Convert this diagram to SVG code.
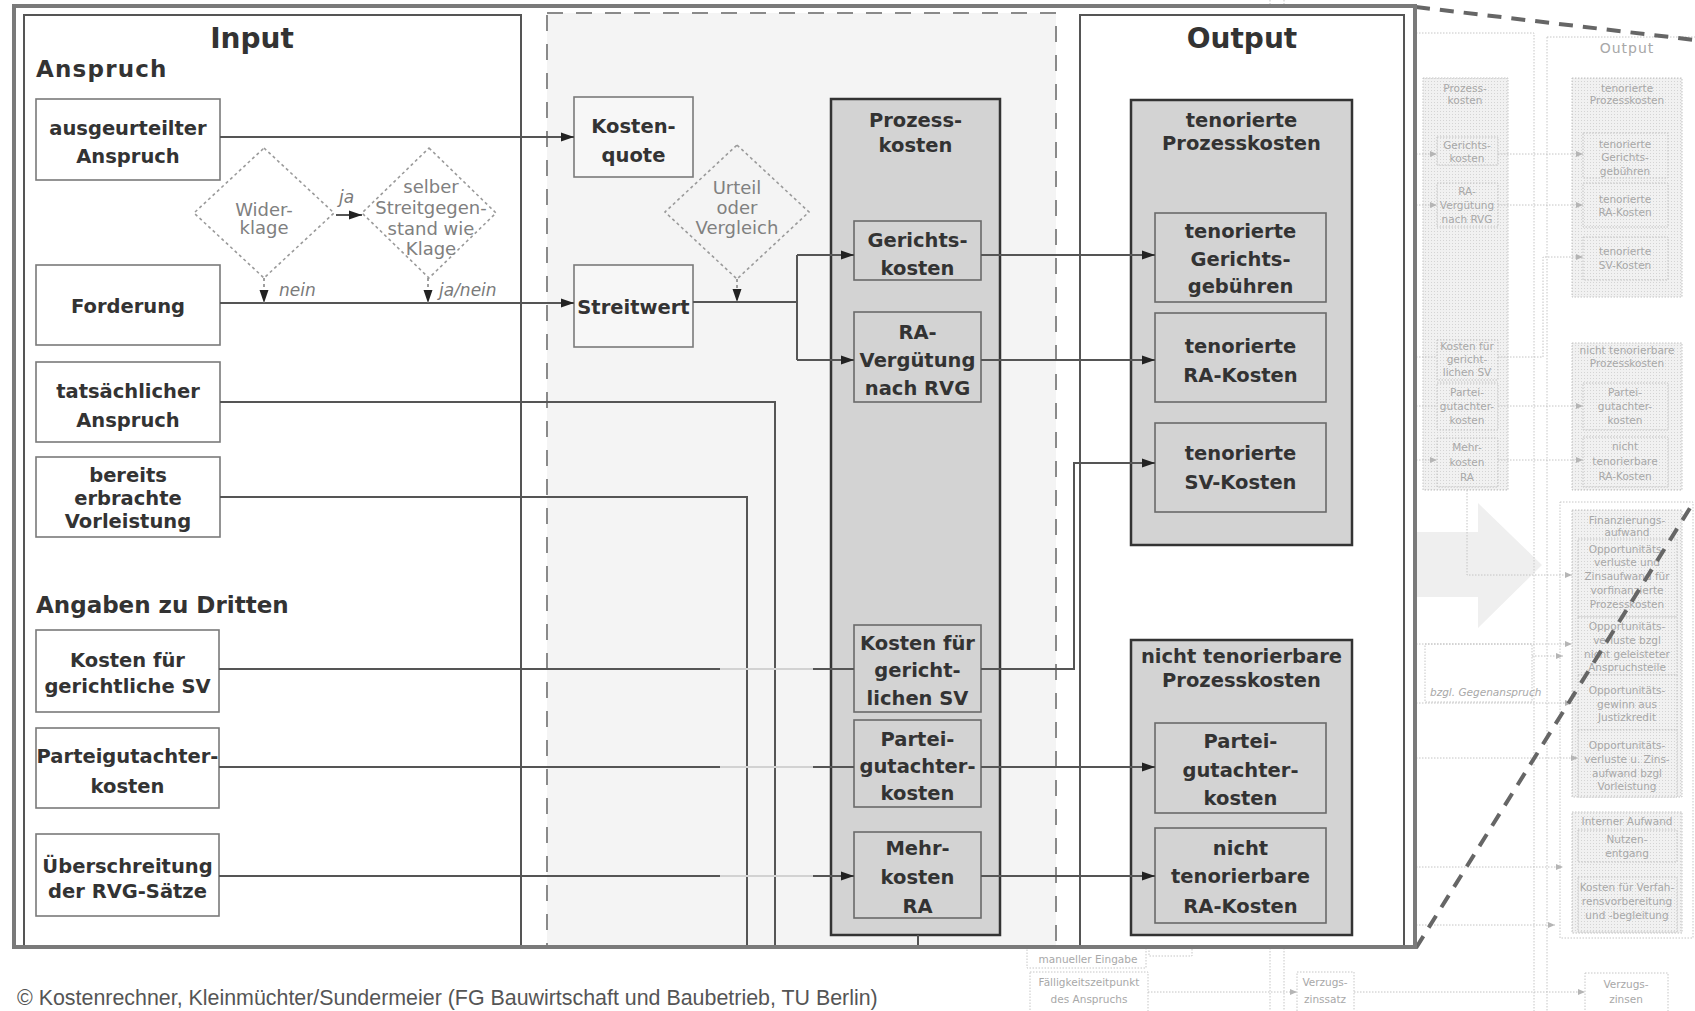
<svg xmlns="http://www.w3.org/2000/svg" width="1695" height="1011" viewBox="0 0 1695 1011">
<style>
.bt{font-family:"DejaVu Sans","Liberation Sans",sans-serif;font-weight:bold;font-size:19.5px;fill:#333;text-anchor:middle}
.hd{font-family:"DejaVu Sans","Liberation Sans",sans-serif;font-weight:bold;font-size:23px;fill:#333}
.ti{font-family:"DejaVu Sans","Liberation Sans",sans-serif;font-weight:bold;font-size:28px;fill:#333;text-anchor:middle}
.dt{font-family:"DejaVu Sans","Liberation Sans",sans-serif;font-size:18px;fill:#808080;text-anchor:middle}
.lb{font-family:"DejaVu Sans","Liberation Sans",sans-serif;font-style:italic;font-size:17px;fill:#7a7a7a}
.ib{fill:#fff;stroke:#7a7a7a;stroke-width:1.6}
.mb{fill:#f7f7f7;stroke:#7a7a7a;stroke-width:1.6}
.gb{fill:#d3d3d3;stroke:#333;stroke-width:2.5}
.sb{fill:#d3d3d3;stroke:#6a6a6a;stroke-width:1.6}
.dm{fill:none;stroke:#9a9a9a;stroke-width:1.6;stroke-dasharray:3 3}
.cn{fill:none;stroke:#555;stroke-width:2}
.cf{fill:none;stroke:#d2d2d2;stroke-width:2}
.cd{fill:none;stroke:#888;stroke-width:1.6;stroke-dasharray:3 3}
.bgb{fill:url(#dots);stroke:#c2c2c2;stroke-width:1;stroke-dasharray:1.5 1.5}
.bgo{fill:none;stroke:#c6c6c6;stroke-width:1;stroke-dasharray:1.5 1.5}
.bgw{fill:#fff;stroke:#c6c6c6;stroke-width:1;stroke-dasharray:1.5 1.5}
.bgt{font-family:"DejaVu Sans","Liberation Sans",sans-serif;font-size:10.5px;fill:#a8a8a8;text-anchor:middle}
.bgl{fill:none;stroke:#c4c4c4;stroke-width:1;stroke-dasharray:1.5 1.5}
.zl{fill:none;stroke:#666;stroke-width:4;stroke-dasharray:14 10}
</style>
<defs>
<marker id="arr" markerUnits="userSpaceOnUse" markerWidth="13" markerHeight="10" refX="13" refY="5" orient="auto"><path d="M0,0.5 L13,5 L0,9.5 z" fill="#222"/></marker>
<marker id="arrs" markerUnits="userSpaceOnUse" markerWidth="7" markerHeight="6" refX="7" refY="3" orient="auto"><path d="M0,0 L7,3 L0,6 z" fill="#b5b5b5"/></marker>
<pattern id="dots" width="3" height="3" patternUnits="userSpaceOnUse"><rect width="3" height="3" fill="#f1f1f1"/><rect width="1" height="1" fill="#d4d4d4"/></pattern>
<clipPath id="inner"><rect x="16" y="8" width="1397" height="938"/></clipPath>
</defs>
<rect width="1695" height="1011" fill="#fff"/>

<g id="background">
<polygon points="1416,532 1478,532 1478,503 1542,565 1478,628 1478,597 1416,597" fill="#efefef"/>
<path class="bgo" d="M1270 0 V1011 M1284 0 V1011 M1416 33 H1534 V1011 M1547 37 H1695 M1547 37 V1011"/>
<text class="bgt" x="1627" y="53" style="font-size:14px;letter-spacing:1px">Output</text>
<rect class="bgb" x="1423" y="78" width="85" height="412"/>
<text class="bgt"><tspan x="1465" y="92">Prozess-</tspan><tspan x="1465" y="104">kosten</tspan></text>
<rect class="bgb" x="1437" y="137" width="61" height="28"/>
<text class="bgt"><tspan x="1467" y="149">Gerichts-</tspan><tspan x="1467" y="162">kosten</tspan></text>
<rect class="bgb" x="1437" y="183" width="61" height="44"/>
<text class="bgt"><tspan x="1467" y="195">RA-</tspan><tspan x="1467" y="209">Vergütung</tspan><tspan x="1467" y="223">nach RVG</tspan></text>
<rect class="bgb" x="1437" y="340" width="61" height="40"/>
<text class="bgt"><tspan x="1467" y="350">Kosten für</tspan><tspan x="1467" y="363">gericht-</tspan><tspan x="1467" y="376">lichen SV</tspan></text>
<rect class="bgb" x="1437" y="383" width="61" height="47"/>
<text class="bgt"><tspan x="1467" y="396">Partei-</tspan><tspan x="1467" y="410">gutachter-</tspan><tspan x="1467" y="424">kosten</tspan></text>
<rect class="bgb" x="1437" y="438" width="61" height="49"/>
<text class="bgt"><tspan x="1467" y="451">Mehr-</tspan><tspan x="1467" y="466">kosten</tspan><tspan x="1467" y="481">RA</tspan></text>

<rect class="bgb" x="1572" y="78" width="110" height="219"/>
<text class="bgt"><tspan x="1627" y="92">tenorierte</tspan><tspan x="1627" y="104">Prozesskosten</tspan></text>
<rect class="bgb" x="1583" y="133" width="85" height="45"/>
<text class="bgt"><tspan x="1625" y="148">tenorierte</tspan><tspan x="1625" y="161">Gerichts-</tspan><tspan x="1625" y="175">gebühren</tspan></text>
<rect class="bgb" x="1583" y="183" width="85" height="44"/>
<text class="bgt"><tspan x="1625" y="203">tenorierte</tspan><tspan x="1625" y="216">RA-Kosten</tspan></text>
<rect class="bgb" x="1583" y="237" width="85" height="43"/>
<text class="bgt"><tspan x="1625" y="255">tenorierte</tspan><tspan x="1625" y="269">SV-Kosten</tspan></text>

<rect class="bgb" x="1572" y="343" width="110" height="147"/>
<text class="bgt"><tspan x="1627" y="354">nicht tenorierbare</tspan><tspan x="1627" y="367">Prozesskosten</tspan></text>
<rect class="bgb" x="1583" y="383" width="85" height="47"/>
<text class="bgt"><tspan x="1625" y="396">Partei-</tspan><tspan x="1625" y="410">gutachter-</tspan><tspan x="1625" y="424">kosten</tspan></text>
<rect class="bgb" x="1583" y="437" width="85" height="50"/>
<text class="bgt"><tspan x="1625" y="450">nicht</tspan><tspan x="1625" y="465">tenorierbare</tspan><tspan x="1625" y="480">RA-Kosten</tspan></text>

<rect class="bgw" x="1560" y="502" width="133" height="436"/>
<rect class="bgb" x="1572" y="510" width="110" height="287"/>
<text class="bgt"><tspan x="1627" y="524">Finanzierungs-</tspan><tspan x="1627" y="536">aufwand</tspan></text>
<rect class="bgb" x="1578" y="539" width="99" height="78"/>
<text class="bgt"><tspan x="1627" y="553">Opportunitäts-</tspan><tspan x="1627" y="566">verluste und</tspan><tspan x="1627" y="580">Zinsaufwand für</tspan><tspan x="1627" y="594">vorfinanzierte</tspan><tspan x="1627" y="608">Prozesskosten</tspan></text>
<rect class="bgb" x="1578" y="617" width="99" height="58"/>
<text class="bgt"><tspan x="1627" y="630">Opportunitäts-</tspan><tspan x="1627" y="644">verluste bzgl</tspan><tspan x="1627" y="658">nicht geleisteter</tspan><tspan x="1627" y="671">Anspruchsteile</tspan></text>
<rect class="bgb" x="1578" y="675" width="99" height="55"/>
<text class="bgt"><tspan x="1627" y="694">Opportunitäts-</tspan><tspan x="1627" y="708">gewinn aus</tspan><tspan x="1627" y="721">Justizkredit</tspan></text>
<rect class="bgb" x="1578" y="730" width="99" height="67"/>
<text class="bgt"><tspan x="1627" y="749">Opportunitäts-</tspan><tspan x="1627" y="763">verluste u. Zins-</tspan><tspan x="1627" y="777">aufwand bzgl</tspan><tspan x="1627" y="790">Vorleistung</tspan></text>
<rect class="bgb" x="1572" y="812" width="110" height="121"/>
<text class="bgt" x="1627" y="825">Interner Aufwand</text>
<rect class="bgb" x="1578" y="830" width="99" height="32"/>
<text class="bgt"><tspan x="1627" y="843">Nutzen-</tspan><tspan x="1627" y="857">entgang</tspan></text>
<rect class="bgb" x="1578" y="877" width="99" height="55"/>
<text class="bgt"><tspan x="1627" y="891">Kosten für Verfah-</tspan><tspan x="1627" y="905">rensvorbereitung</tspan><tspan x="1627" y="919">und -begleitung</tspan></text>

<rect class="bgw" x="1425" y="644" width="107" height="58"/>
<text class="bgt" x="1430" y="696" style="text-anchor:start;font-style:italic">bzgl. Gegenanspruch</text>

<rect class="bgw" x="1027" y="938" width="119" height="30"/>
<text class="bgt" x="1088" y="963">manueller Eingabe</text>
<rect class="bgw" x="1149" y="938" width="43" height="18"/>
<rect class="bgw" x="1030" y="972" width="118" height="42"/>
<text class="bgt"><tspan x="1089" y="986">Fälligkeitszeitpunkt</tspan><tspan x="1089" y="1003">des Anspruchs</tspan></text>
<rect class="bgw" x="1297" y="972" width="57" height="42"/>
<text class="bgt"><tspan x="1325" y="986">Verzugs-</tspan><tspan x="1325" y="1003">zinssatz</tspan></text>
<rect class="bgw" x="1585" y="973" width="83" height="42"/>
<text class="bgt"><tspan x="1626" y="988">Verzugs-</tspan><tspan x="1626" y="1003">zinsen</tspan></text>

<g id="bg-connectors">
<path class="bgl" d="M1416 154 H1437" marker-end="url(#arrs)"/>
<path class="bgl" d="M1498 154 H1583" marker-end="url(#arrs)"/>
<path class="bgl" d="M1416 205 H1437" marker-end="url(#arrs)"/>
<path class="bgl" d="M1498 205 H1583" marker-end="url(#arrs)"/>
<path class="bgl" d="M1416 357 H1437"/>
<path class="bgl" d="M1498 357 H1543 V257 H1583" marker-end="url(#arrs)"/>
<path class="bgl" d="M1416 406 H1437"/>
<path class="bgl" d="M1498 406 H1583" marker-end="url(#arrs)"/>
<path class="bgl" d="M1416 460 H1437" marker-end="url(#arrs)"/>
<path class="bgl" d="M1498 460 H1583" marker-end="url(#arrs)"/>
<path class="bgl" d="M1467 490 V575 H1572" marker-end="url(#arrs)"/>
<path class="bgl" d="M1416 644 H1572" marker-end="url(#arrs)"/>
<path class="bgl" d="M1532 656 H1563" marker-end="url(#arrs)"/>
<path class="bgl" d="M1416 703 H1572" marker-end="url(#arrs)"/>
<path class="bgl" d="M1416 758 H1578" marker-end="url(#arrs)"/>
<path class="bgl" d="M1416 867 H1563" marker-end="url(#arrs)"/>
<path class="bgl" d="M1416 925 H1555" marker-end="url(#arrs)"/>
<path class="bgl" d="M1148 992 H1297" marker-end="url(#arrs)"/>
<path class="bgl" d="M1354 992 H1585" marker-end="url(#arrs)"/>
</g>
</g>

<g id="zoom-lines">
<path class="zl" d="M1416 7 L1695 40"/>
<path class="zl" d="M1416 948 L1695 500"/>
</g>

<g id="main">
<rect x="14" y="6" width="1401" height="941" fill="#fff"/>
<g clip-path="url(#inner)">
<g id="panel-input"><rect x="24" y="15" width="497" height="950" fill="#fff" stroke="#555" stroke-width="2"/>
<text class="ti" x="252" y="48">Input</text>
<text class="hd" x="36" y="77" style="letter-spacing:1.2px">Anspruch</text>
<text class="hd" x="36" y="613">Angaben zu Dritten</text></g>
<g id="panel-middle"><rect x="547" y="13" width="509" height="950" fill="#f4f4f4" stroke="#8a8a8a" stroke-width="2" stroke-dasharray="16 13"/></g>
<g id="panel-output"><rect x="1080" y="15" width="324" height="950" fill="#fff" stroke="#555" stroke-width="2"/>
<text class="ti" x="1242" y="48">Output</text></g>

<g id="n-ausgeurteilter"><rect class="ib" x="36" y="99" width="184" height="81"/><text class="bt"><tspan x="128" y="135">ausgeurteilter</tspan><tspan x="128" y="163">Anspruch</tspan></text></g>
<g id="n-forderung"><rect class="ib" x="36" y="265" width="184" height="80"/><text class="bt" x="128" y="313">Forderung</text></g>
<g id="n-tatsaechlich"><rect class="ib" x="36" y="362" width="184" height="80"/><text class="bt"><tspan x="128" y="398">tatsächlicher</tspan><tspan x="128" y="427">Anspruch</tspan></text></g>
<g id="n-vorleistung"><rect class="ib" x="36" y="457" width="184" height="80"/><text class="bt"><tspan x="128" y="482">bereits</tspan><tspan x="128" y="505">erbrachte</tspan><tspan x="128" y="528">Vorleistung</tspan></text></g>
<g id="n-sv"><rect class="ib" x="36" y="630" width="183" height="82"/><text class="bt"><tspan x="127.5" y="667">Kosten für</tspan><tspan x="127.5" y="693">gerichtliche SV</tspan></text></g>
<g id="n-partei"><rect class="ib" x="36" y="728" width="183" height="80"/><text class="bt"><tspan x="127.5" y="763">Parteigutachter-</tspan><tspan x="127.5" y="793">kosten</tspan></text></g>
<g id="n-ueber"><rect class="ib" x="36" y="834" width="183" height="82"/><text class="bt"><tspan x="127.5" y="873">Überschreitung</tspan><tspan x="127.5" y="898">der RVG-Sätze</tspan></text></g>

<g id="d-widerklage"><path class="dm" d="M264 148 L334 213 L264 278 L194 213 Z"/><text class="dt"><tspan x="264" y="216">Wider-</tspan><tspan x="264" y="234">klage</tspan></text></g>
<g id="d-selber"><path class="dm" d="M429 148 L496 213 L429 278 L362 213 Z"/><text class="dt"><tspan x="431" y="193">selber</tspan><tspan x="431" y="214">Streitgegen-</tspan><tspan x="431" y="235">stand wie</tspan><tspan x="431" y="255">Klage</tspan></text></g>
<g id="d-urteil"><path class="dm" d="M737 145 L809 212 L737 279 L665 212 Z"/><text class="dt"><tspan x="737" y="194">Urteil</tspan><tspan x="737" y="214">oder</tspan><tspan x="737" y="234">Vergleich</tspan></text></g>

<g id="n-kostenquote"><rect class="mb" x="574" y="97" width="119" height="80"/><text class="bt"><tspan x="633.5" y="133">Kosten-</tspan><tspan x="633.5" y="162">quote</tspan></text></g>
<g id="n-streitwert"><rect class="mb" x="574" y="265" width="119" height="82"/><text class="bt" x="633.5" y="314">Streitwert</text></g>

<g id="n-prozesskosten"><rect class="gb" x="831" y="99" width="169" height="836"/><text class="bt"><tspan x="915.5" y="127">Prozess-</tspan><tspan x="915.5" y="152">kosten</tspan></text></g>
<g id="n-gerichtskosten"><rect class="sb" x="854" y="221" width="127" height="59"/><text class="bt"><tspan x="917.5" y="247">Gerichts-</tspan><tspan x="917.5" y="275">kosten</tspan></text></g>
<g id="n-ra"><rect class="sb" x="854" y="312" width="127" height="90"/><text class="bt"><tspan x="917.5" y="339">RA-</tspan><tspan x="917.5" y="367">Vergütung</tspan><tspan x="917.5" y="395">nach RVG</tspan></text></g>
<g id="n-svk"><rect class="sb" x="854" y="625" width="127" height="87"/><text class="bt"><tspan x="917.5" y="650">Kosten für</tspan><tspan x="917.5" y="677">gericht-</tspan><tspan x="917.5" y="705">lichen SV</tspan></text></g>
<g id="n-parteik"><rect class="sb" x="854" y="720" width="127" height="87"/><text class="bt"><tspan x="917.5" y="746">Partei-</tspan><tspan x="917.5" y="773">gutachter-</tspan><tspan x="917.5" y="800">kosten</tspan></text></g>
<g id="n-mehrkosten"><rect class="sb" x="854" y="832" width="127" height="86"/><text class="bt"><tspan x="917.5" y="855">Mehr-</tspan><tspan x="917.5" y="884">kosten</tspan><tspan x="917.5" y="913">RA</tspan></text></g>

<g id="n-tenoriert"><rect class="gb" x="1131" y="100" width="221" height="445"/><text class="bt"><tspan x="1241.5" y="127">tenorierte</tspan><tspan x="1241.5" y="150">Prozesskosten</tspan></text></g>
<g id="n-ten-gericht"><rect class="sb" x="1155" y="213" width="171" height="89"/><text class="bt"><tspan x="1240.5" y="238">tenorierte</tspan><tspan x="1240.5" y="266">Gerichts-</tspan><tspan x="1240.5" y="293">gebühren</tspan></text></g>
<g id="n-ten-ra"><rect class="sb" x="1155" y="313" width="171" height="89"/><text class="bt"><tspan x="1240.5" y="353">tenorierte</tspan><tspan x="1240.5" y="382">RA-Kosten</tspan></text></g>
<g id="n-ten-sv"><rect class="sb" x="1155" y="423" width="171" height="89"/><text class="bt"><tspan x="1240.5" y="460">tenorierte</tspan><tspan x="1240.5" y="489">SV-Kosten</tspan></text></g>
<g id="n-nicht"><rect class="gb" x="1131" y="640" width="221" height="295"/><text class="bt"><tspan x="1241.5" y="663">nicht tenorierbare</tspan><tspan x="1241.5" y="687">Prozesskosten</tspan></text></g>
<g id="n-nicht-partei"><rect class="sb" x="1155" y="723" width="171" height="90"/><text class="bt"><tspan x="1240.5" y="748">Partei-</tspan><tspan x="1240.5" y="777">gutachter-</tspan><tspan x="1240.5" y="805">kosten</tspan></text></g>
<g id="n-nicht-ra"><rect class="sb" x="1155" y="828" width="171" height="95"/><text class="bt"><tspan x="1240.5" y="855">nicht</tspan><tspan x="1240.5" y="883">tenorierbare</tspan><tspan x="1240.5" y="913">RA-Kosten</tspan></text></g>

<g id="connectors">
<path class="cn" d="M220 137 H574" marker-end="url(#arr)"/>
<path class="cn" d="M220 303 H574" marker-end="url(#arr)"/>
<path class="cn" d="M336 215 H362" marker-end="url(#arr)"/>
<path class="cd" d="M264 278 V303" marker-end="url(#arr)"/>
<path class="cd" d="M428 278 V303" marker-end="url(#arr)"/>
<path class="cd" d="M737 279 V302" marker-end="url(#arr)"/>
<path class="cn" d="M693 302 H797 M797 255 V360"/>
<path class="cn" d="M797 255 H854" marker-end="url(#arr)"/>
<path class="cn" d="M797 360 H854" marker-end="url(#arr)"/>
<path class="cn" d="M981 255 H1155" marker-end="url(#arr)"/>
<path class="cn" d="M981 360 H1155" marker-end="url(#arr)"/>
<path class="cn" d="M220 402 H775 V960"/>
<path class="cn" d="M220 497 H747 V960"/>
<path class="cn" d="M219 669 H720 M813 669 H854"/>
<path class="cf" d="M720 669 H813"/>
<path class="cn" d="M219 767 H720 M813 767 H854"/>
<path class="cf" d="M720 767 H813"/>
<path class="cn" d="M219 876 H720"/>
<path class="cf" d="M720 876 H813"/>
<path class="cn" d="M813 876 H854" marker-end="url(#arr)"/>
<path class="cn" d="M981 669 H1074 V463 H1155" marker-end="url(#arr)"/>
<path class="cn" d="M981 767 H1155" marker-end="url(#arr)"/>
<path class="cn" d="M981 876 H1155" marker-end="url(#arr)"/>
<path class="cn" d="M918 935 V960"/>
</g>
<g id="labels">
<text class="lb" x="339" y="203">ja</text>
<text class="lb" x="279" y="296">nein</text>
<text class="lb" x="439" y="296">ja/nein</text>
</g>
</g>
<rect x="14" y="6" width="1401" height="941" fill="none" stroke="#7a7a7a" stroke-width="4"/>
</g>

<text x="17" y="1005" font-family="'Liberation Sans', Arial, sans-serif" font-size="21.4" fill="#555">© Kostenrechner, Kleinmüchter/Sundermeier (FG Bauwirtschaft und Baubetrieb, TU Berlin)</text>
</svg>
